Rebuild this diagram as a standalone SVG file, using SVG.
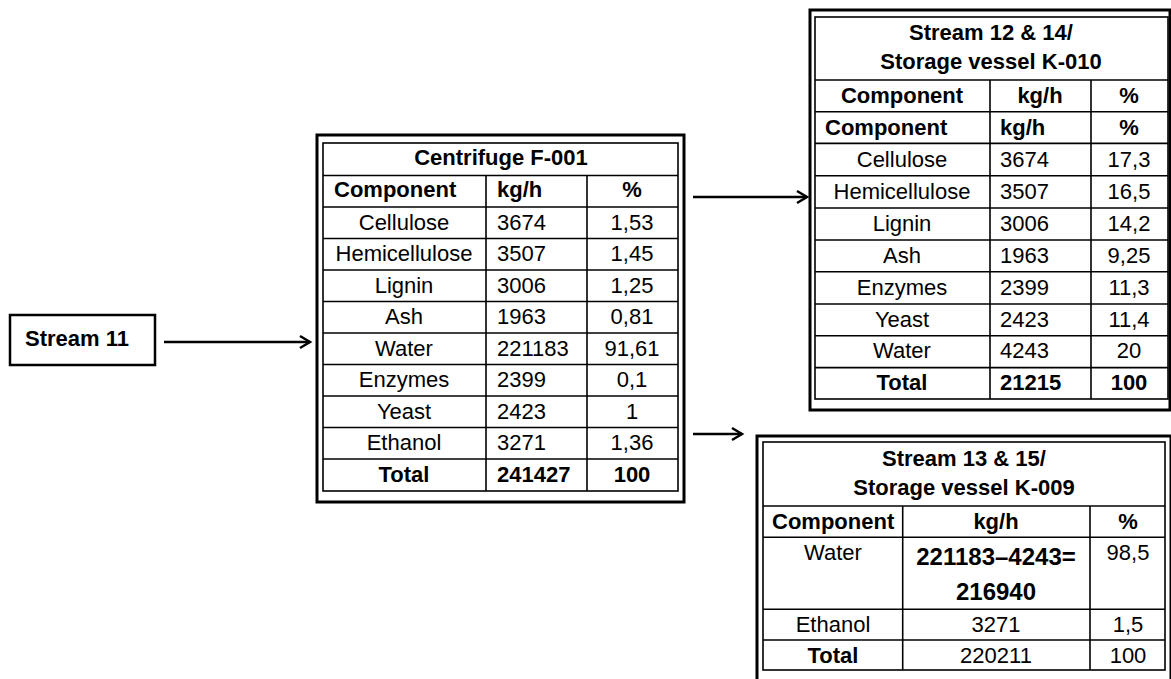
<svg xmlns="http://www.w3.org/2000/svg" width="1171" height="679" viewBox="0 0 1171 679">
<style>
text{font-family:"Liberation Sans",Arial,sans-serif;font-size:22px;fill:#000}
.b{font-weight:bold}
.c{text-anchor:middle}
.outer{fill:#fff;stroke:#000;stroke-width:3}
.tbl{fill:none;stroke:#000;stroke-width:1.6}
.grid{stroke:#000;stroke-width:1.6}
.conn{stroke:#000;stroke-width:2.5;fill:none}
</style>
<defs>
<marker id="arr" markerWidth="16" markerHeight="16" refX="13" refY="8" orient="auto" markerUnits="userSpaceOnUse">
<path d="M3,2 L13,8 L3,14" fill="none" stroke="#000" stroke-width="2.5"/>
</marker>
</defs>
<rect width="1171" height="679" fill="#fff"/>

<g id="connectors">
<line class="conn" x1="164" y1="342" x2="310" y2="342" marker-end="url(#arr)"/>
<line class="conn" x1="693" y1="197" x2="807" y2="197" marker-end="url(#arr)"/>
<line class="conn" x1="693" y1="434" x2="742" y2="434" marker-end="url(#arr)"/>
</g>

<g id="stream11">
<rect x="10" y="315" width="145" height="50" fill="#fff" stroke="#000" stroke-width="2.5"/>
<text class="b" x="25" y="346">Stream 11</text>
</g>

<g id="centrifuge">
<rect class="outer" x="317" y="135" width="367" height="367"/>
<rect class="tbl" x="323" y="143" width="355" height="348"/>
<g class="grid">
<line x1="323" y1="175.5" x2="678" y2="175.5"/>
<line x1="323" y1="207" x2="678" y2="207"/>
<line x1="323" y1="238.5" x2="678" y2="238.5"/>
<line x1="323" y1="270" x2="678" y2="270"/>
<line x1="323" y1="301.5" x2="678" y2="301.5"/>
<line x1="323" y1="333" x2="678" y2="333"/>
<line x1="323" y1="364.5" x2="678" y2="364.5"/>
<line x1="323" y1="396" x2="678" y2="396"/>
<line x1="323" y1="427.5" x2="678" y2="427.5"/>
<line x1="323" y1="459" x2="678" y2="459"/>
<line x1="486" y1="175.5" x2="486" y2="491"/>
<line x1="587" y1="175.5" x2="587" y2="491"/>
</g>
<text class="b c" x="501" y="165">Centrifuge F-001</text>
<text class="b" x="334" y="197">Component</text>
<text class="b" x="497" y="197">kg/h</text>
<text class="b c" x="632" y="197">%</text>
<text class="c" x="404" y="229.5">Cellulose</text>
<text x="497" y="229.5">3674</text>
<text class="c" x="632" y="229.5">1,53</text>
<text class="c" x="404" y="261">Hemicellulose</text>
<text x="497" y="261">3507</text>
<text class="c" x="632" y="261">1,45</text>
<text class="c" x="404" y="292.5">Lignin</text>
<text x="497" y="292.5">3006</text>
<text class="c" x="632" y="292.5">1,25</text>
<text class="c" x="404" y="324">Ash</text>
<text x="497" y="324">1963</text>
<text class="c" x="632" y="324">0,81</text>
<text class="c" x="404" y="355.5">Water</text>
<text x="497" y="355.5">221183</text>
<text class="c" x="632" y="355.5">91,61</text>
<text class="c" x="404" y="387">Enzymes</text>
<text x="497" y="387">2399</text>
<text class="c" x="632" y="387">0,1</text>
<text class="c" x="404" y="418.5">Yeast</text>
<text x="497" y="418.5">2423</text>
<text class="c" x="632" y="418.5">1</text>
<text class="c" x="404" y="450">Ethanol</text>
<text x="497" y="450">3271</text>
<text class="c" x="632" y="450">1,36</text>
<text class="b c" x="404" y="481.5">Total</text>
<text class="b" x="497" y="481.5">241427</text>
<text class="b c" x="632" y="481.5">100</text>
</g>

<g id="k010">
<rect class="outer" x="810" y="10" width="360" height="400"/>
<rect class="tbl" x="815" y="17" width="353" height="382"/>
<g class="grid">
<line x1="815" y1="80" x2="1168" y2="80"/>
<line x1="815" y1="111.7" x2="1168" y2="111.7"/>
<line x1="815" y1="143.4" x2="1168" y2="143.4"/>
<line x1="815" y1="175.7" x2="1168" y2="175.7"/>
<line x1="815" y1="208" x2="1168" y2="208"/>
<line x1="815" y1="240" x2="1168" y2="240"/>
<line x1="815" y1="271.8" x2="1168" y2="271.8"/>
<line x1="815" y1="304" x2="1168" y2="304"/>
<line x1="815" y1="335.8" x2="1168" y2="335.8"/>
<line x1="815" y1="367.6" x2="1168" y2="367.6"/>
<line x1="990" y1="80" x2="990" y2="399"/>
<line x1="1091" y1="80" x2="1091" y2="399"/>
</g>
<text class="b c" x="991" y="40">Stream 12 &amp; 14/</text>
<text class="b c" x="991" y="69">Storage vessel K-010</text>
<text class="b c" x="902" y="103">Component</text>
<text class="b c" x="1040" y="103">kg/h</text>
<text class="b c" x="1129" y="103">%</text>
<text class="b" x="825" y="135">Component</text>
<text class="b" x="1000" y="135">kg/h</text>
<text class="b c" x="1129" y="135">%</text>
<text class="c" x="902" y="167">Cellulose</text>
<text x="1000" y="167">3674</text>
<text class="c" x="1129" y="167">17,3</text>
<text class="c" x="902" y="199">Hemicellulose</text>
<text x="1000" y="199">3507</text>
<text class="c" x="1129" y="199">16,5</text>
<text class="c" x="902" y="231">Lignin</text>
<text x="1000" y="231">3006</text>
<text class="c" x="1129" y="231">14,2</text>
<text class="c" x="902" y="263">Ash</text>
<text x="1000" y="263">1963</text>
<text class="c" x="1129" y="263">9,25</text>
<text class="c" x="902" y="295">Enzymes</text>
<text x="1000" y="295">2399</text>
<text class="c" x="1129" y="295">11,3</text>
<text class="c" x="902" y="327">Yeast</text>
<text x="1000" y="327">2423</text>
<text class="c" x="1129" y="327">11,4</text>
<text class="c" x="902" y="358">Water</text>
<text x="1000" y="358">4243</text>
<text class="c" x="1129" y="358">20</text>
<text class="b c" x="902" y="390">Total</text>
<text class="b" x="1000" y="390">21215</text>
<text class="b c" x="1129" y="390">100</text>
</g>

<g id="k009">
<rect class="outer" x="757" y="436" width="414" height="250"/>
<rect class="tbl" x="763" y="442" width="402" height="228"/>
<g class="grid">
<line x1="763" y1="506" x2="1165" y2="506"/>
<line x1="763" y1="537.3" x2="1165" y2="537.3"/>
<line x1="763" y1="609.3" x2="1165" y2="609.3"/>
<line x1="763" y1="640" x2="1165" y2="640"/>
<line x1="902.7" y1="506" x2="902.7" y2="670"/>
<line x1="1090" y1="506" x2="1090" y2="670"/>
</g>
<text class="b c" x="964" y="466">Stream 13 &amp; 15/</text>
<text class="b c" x="964" y="495">Storage vessel K-009</text>
<text class="b" x="772" y="529">Component</text>
<text class="b c" x="996" y="529">kg/h</text>
<text class="b c" x="1128" y="529">%</text>
<text class="c" x="833" y="560">Water</text>
<text class="b c" x="996" y="565" style="font-size:24px">221183–4243=</text>
<text class="b c" x="996" y="600" style="font-size:24px">216940</text>
<text class="c" x="1128" y="560">98,5</text>
<text class="c" x="833" y="632">Ethanol</text>
<text class="c" x="996" y="632">3271</text>
<text class="c" x="1128" y="632">1,5</text>
<text class="b c" x="833" y="663">Total</text>
<text class="c" x="996" y="663">220211</text>
<text class="c" x="1128" y="663">100</text>
</g>
</svg>
